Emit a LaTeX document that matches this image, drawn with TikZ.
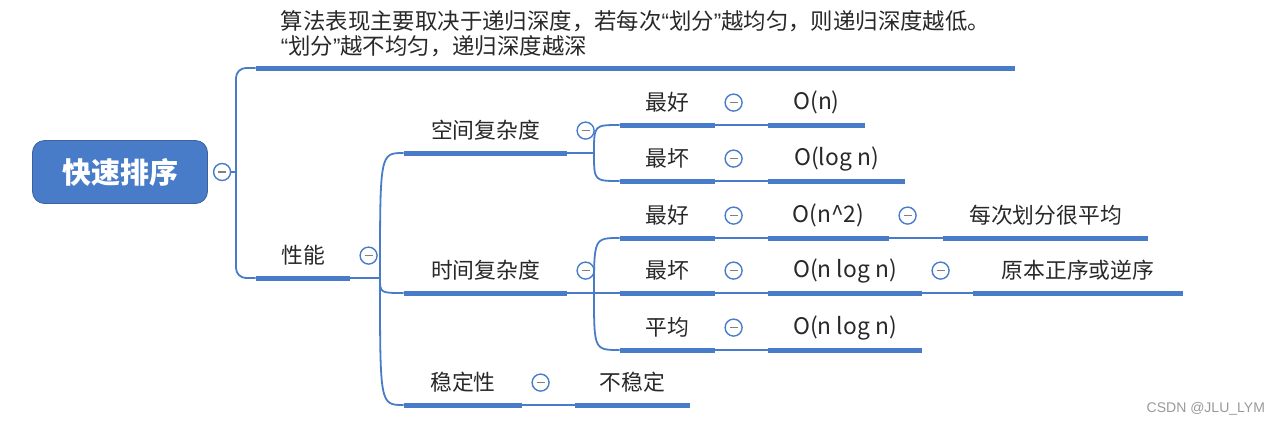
\documentclass[tikz,border=0pt]{standalone}
\usepackage{fontspec}
\setmainfont{Noto Sans CJK SC}
\newfontfamily\markfont{Liberation Sans}
\newfontfamily\quotefont{Liberation Sans}
\newcommand{\openq}{{\quotefont “}}
\newcommand{\closeq}{{\quotefont ”}}
\usepackage{xcolor}
\definecolor{mapblue}{RGB}{72,124,200}
\definecolor{inkgray}{RGB}{40,40,40}
\usepackage{tikz}
\usetikzlibrary{positioning}

\begin{document}
\begin{tikzpicture}[x=0.5pt, y=-0.5pt, font=\fontsize{10.9pt}{12.5pt}\selectfont, text=inkgray,
 topic/.style = {inner sep=0pt, minimum height=22pt, minimum width=#1*0.5pt, anchor=south},
 rootbox/.style = {rounded corners=6pt, fill=mapblue, draw=mapblue!80!black, line width=0.4pt, minimum width=87.5pt, minimum height=31.5pt, text=white, font=\fontsize{14.5pt}{16pt}\selectfont\bfseries},
 fold/.style = {circle, draw=mapblue, fill=white, line width=0.7pt, minimum size=8.5pt, inner sep=0pt, path picture={\draw[gray, line width=0.6pt] ([xshift=-2pt]path picture bounding box.center) -- ([xshift=2pt]path picture bounding box.center);}},
 bar/.style = {draw=mapblue, line width=2.5pt},
 link/.style = {draw=mapblue, line width=0.9pt},
 valfont/.style = {font=\fontsize{11.4pt}{12.5pt}\selectfont}]

\useasboundingbox (0,0) rectangle (1287,424);

\node[rootbox] (root) at (120,172) {快速排序};
\node[fold, right=2.5pt of root] (rootf) {};

\node[topic=759, inner ysep=5.5pt, align=left, font=\fontsize{11.2pt}{12.5pt}\selectfont] (suanfa) at (635.5,68) {算法表现主要取决于递归深度，若每次\openq 划分\closeq 越均匀，则递归深度越低。\\\openq 划分\closeq 越不均匀，递归深度越深};
\node[topic=94] (xingneng) at (303,278) {性能};
\node[fold, right=4.5pt of xingneng] (xingnengf) {};

\node[topic=163] (kongjian) at (485.5,153) {空间复杂度};
\node[fold, right=4.5pt of kongjian] (kongjianf) {};
\node[topic=163] (shijian) at (485.5,293) {时间复杂度};
\node[fold, right=4.5pt of shijian] (shijianf) {};
\node[topic=118] (wending) at (463,405) {稳定性};
\node[fold, right=4.5pt of wending] (wendingf) {};

\node[topic=95] (kjbest) at (667.5,125) {最好};
\node[fold, right=4.5pt of kjbest] (kjbestf) {};
\node[topic=95] (kjworst) at (667.5,181) {最坏};
\node[fold, right=4.5pt of kjworst] (kjworstf) {};
\node[topic=97, valfont] (kjbestv) at (816.5,125) {O(n)};
\node[topic=137, valfont] (kjworstv) at (836.5,181) {O(log n)};

\node[topic=95] (sjbest) at (667.5,238) {最好};
\node[fold, right=4.5pt of sjbest] (sjbestf) {};
\node[topic=95] (sjworst) at (667.5,293) {最坏};
\node[fold, right=4.5pt of sjworst] (sjworstf) {};
\node[topic=95] (sjavg) at (667.5,350) {平均};
\node[fold, right=4.5pt of sjavg] (sjavgf) {};
\node[topic=121, valfont] (sjbestv) at (828.5,238) {O(n\textasciicircum 2)};
\node[fold, right=4.5pt of sjbestv] (sjbestvf) {};
\node[topic=154, valfont] (sjworstv) at (845,293) {O(n log n)};
\node[fold, right=4.5pt of sjworstv] (sjworstvf) {};
\node[topic=154, valfont] (sjavgv) at (845,350) {O(n log n)};
\node[topic=205] (sjbestn) at (1045.5,238) {每次划分很平均};
\node[topic=210] (sjworstn) at (1078,293) {原本正序或逆序};

\node[topic=115] (wdv) at (632.5,405) {不稳定};

\node[anchor=east, text=gray!80, font=\markfont\fontsize{7pt}{8pt}\selectfont] (mark) at (1272,409) {CSDN @JLU\_LYM};

\coordinate (rootj) at (236,172);
\coordinate (xnj) at (380,278);
\coordinate (kjj) at (594,153);
\coordinate (sjj) at (594,293);

\draw[link] (rootf) -- (rootj);
\draw[link, rounded corners=5pt] (rootj) |- (suanfa.south west);
\draw[link, rounded corners=5pt] (rootj) |- (xingneng.south west);

\draw[link] (xingneng.south east) -- (xnj);
\draw[link] (xnj) .. controls (xnj |- kongjian.south west) .. (kongjian.south west);
\draw[link] (xnj) .. controls (xnj |- shijian.south west) .. (shijian.south west);
\draw[link] (xnj) .. controls (xnj |- wending.south west) .. (wending.south west);

\draw[link] (kongjian.south east) -- (kjj);
\draw[link] (kjj) .. controls (kjj |- kjbest.south west) .. (kjbest.south west);
\draw[link] (kjj) .. controls (kjj |- kjworst.south west) .. (kjworst.south west);

\draw[link] (shijian.south east) -- (sjworst.south west);
\draw[link] (sjj) .. controls (sjj |- sjbest.south west) .. (sjbest.south west);
\draw[link] (sjj) .. controls (sjj |- sjavg.south west) .. (sjavg.south west);

\path[link]
 (kjbest.south east) edge (kjbestv.south west)
 (kjworst.south east) edge (kjworstv.south west)
 (sjbest.south east) edge (sjbestv.south west)
 (sjworst.south east) edge (sjworstv.south west)
 (sjavg.south east) edge (sjavgv.south west)
 (sjbestv.south east) edge (sjbestn.south west)
 (sjworstv.south east) edge (sjworstn.south west)
 (wending.south east) edge (wdv.south west);

\path[bar]
 (suanfa.south west) edge (suanfa.south east)
 (xingneng.south west) edge (xingneng.south east)
 (kongjian.south west) edge (kongjian.south east)
 (shijian.south west) edge (shijian.south east)
 (wending.south west) edge (wending.south east)
 (kjbest.south west) edge (kjbest.south east)
 (kjworst.south west) edge (kjworst.south east)
 (kjbestv.south west) edge (kjbestv.south east)
 (kjworstv.south west) edge (kjworstv.south east)
 (sjbest.south west) edge (sjbest.south east)
 (sjworst.south west) edge (sjworst.south east)
 (sjavg.south west) edge (sjavg.south east)
 (sjbestv.south west) edge (sjbestv.south east)
 (sjworstv.south west) edge (sjworstv.south east)
 (sjavgv.south west) edge (sjavgv.south east)
 (sjbestn.south west) edge (sjbestn.south east)
 (sjworstn.south west) edge (sjworstn.south east)
 (wdv.south west) edge (wdv.south east);
\end{tikzpicture}
\end{document}
